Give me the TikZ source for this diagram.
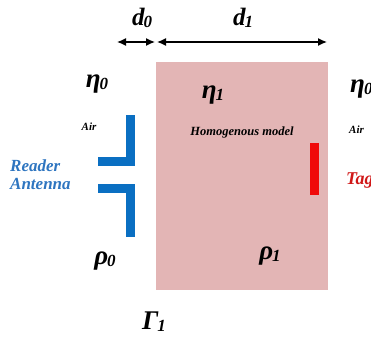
\documentclass[tikz,border=0pt]{standalone}
\usepackage{fontspec}
\setmainfont{Liberation Serif}
\usetikzlibrary{calc,arrows.meta,positioning}
\definecolor{rosa}{HTML}{E3B5B5}
\definecolor{azul}{HTML}{0A6FC2}
\definecolor{azultxt}{HTML}{2E75C0}
\definecolor{rojo}{HTML}{F00A0A}
\definecolor{rojotxt}{HTML}{D01818}
\tikzset{
  param/.style={font=\fontsize{27}{27}\selectfont\bfseries\itshape,inner sep=0pt},
  dist/.style={font=\fontsize{25}{25}\selectfont\bfseries\itshape,inner sep=0pt},
  small/.style={font=\fontsize{11}{11}\selectfont\bfseries\itshape,inner sep=0pt},
  cota/.style={{Latex[length=9pt,width=8pt]}-{Latex[length=9pt,width=8pt]},line width=1.3pt},
}
\newcommand{\sub}[1]{\kern-1pt{\fontsize{17}{17}\selectfont\raisebox{-2pt}{#1}}}
\begin{document}
\begin{tikzpicture}[x=1pt,y=-1pt,>=Latex,line cap=butt]
        \useasboundingbox (0,0) rectangle (371,339);
        \clip (0,0) rectangle (371,339);
        % medio homogeneo
        \fill[rosa] (156,62) rectangle (328,290);
        \coordinate (A0) at (117,42);
        \coordinate (A1) at (155,42);
        \coordinate (A2) at (157,42);
        \coordinate (A3) at (327,42);
        \draw[cota] (A0) -- (A1);
        \draw[cota] (A2) -- (A3);
        \node[dist] (d0) at (142,18) {d\sub{0}};
        \node[dist] (d1) at (243,18) {d\sub{1}};
        % parametros
        \node[param] (eta0) at (97,84) {η\sub{0}};
        \node[param] (eta1) at (213,95) {η\sub{1}};
        \node[param,anchor=west] (eta2) at (350,89) {η\sub{0}};
        \node[param] (rho0) at (105,261) {ρ\sub{0}};
        \node[param] (rho1) at (270,256) {ρ\sub{1}};
        \node[param] (gam1) at (154,322) {Γ\sub{1}};
        \node[small] (air0) at (89,127) {Air};
        \node[small,anchor=west] (air1) at (349,130) {Air};
        \node[small,font=\fontsize{12.5}{12.5}\selectfont\bfseries\itshape] (homo) at (242,132) {Homogenous model};
        % antena lectora
        \fill[azul] (126,115) rectangle (135,166);
        \fill[azul] (98,157) rectangle (135,166);
        \fill[azul] (98,184) rectangle (135,193);
        \fill[azul] (126,184) rectangle (135,237);
        \node[azultxt,align=left,font=\fontsize{17}{18}\selectfont\bfseries\itshape,inner sep=0pt,anchor=west]
              (reader) at (10,175) {Reader\\Antenna};
        % etiqueta
        \fill[rojo] (310,143) rectangle (319,195);
        \node[rojotxt,font=\fontsize{18}{18}\selectfont\bfseries\itshape,inner sep=0pt,anchor=west]
              (tag) at (346,181) {Tag};
      \end{tikzpicture}
\end{document}
